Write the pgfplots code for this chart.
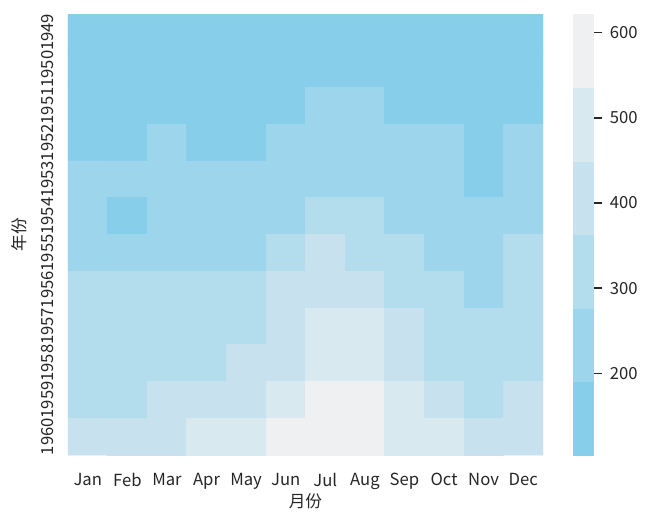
\documentclass[border=0pt]{standalone}
\usepackage{pgfplots}
\pgfplotsset{compat=1.18}
\usepackage{fontspec}
\setmainfont{Noto Sans CJK SC}
\begin{document}
\begin{tikzpicture}
\begin{axis}[
  name=main,
  scale only axis,
  width=356.25pt, height=330.75pt,
  xmin=-0.5, xmax=11.5, ymin=-0.5, ymax=11.5,
  y dir=reverse,
  axis line style={draw=none},
  major tick length=0pt,
  xtick={0,...,11},
  xticklabels={Jan,Feb,Mar,Apr,May,Jun,Jul,Aug,Sep,Oct,Nov,Dec},
  ytick={0,...,11},
  yticklabels={1949,1950,1951,1952,1953,1954,1955,1956,1957,1958,1959,1960},
  yticklabel style={rotate=90, anchor=south},
  yticklabel shift=7pt,
  xticklabel shift=10pt,
  xlabel shift=-4pt,
  ylabel shift=4pt,
  tick label style={font=\fontsize{12.5}{14}\selectfont, text=black!85},
  label style={font=\fontsize{12.5}{14}\selectfont, text=black!85},
  xlabel={月份}, ylabel={年份},
  colormap={sky}{rgb255=(135,206,235) rgb255=(157,213,236) rgb255=(179,220,237) rgb255=(199,226,238) rgb255=(217,233,240) rgb255=(239,240,242)},
  colormap access=piecewise constant,
  point meta min=104, point meta max=622,
  colorbar,
  colorbar style={
    at={(parent axis.north east)}, anchor=north west, xshift=13.5pt,
    scale only axis, width=16.5pt, height=330.75pt,
    axis on top,
    axis line style={draw=none},
    ytick={200,300,400,500,600},
    ytick pos=right, yticklabel pos=right,
    yticklabel shift=2pt,
    tick align=outside, major tick length=6pt,
    major tick style={draw=black!85, line width=1pt},
    ytick style={draw=black!85, line width=1pt},
    /pgf/number format/assume math mode=true,
    yticklabel style={font=\fontsize{12.5}{14}\selectfont, text=black!85},
  },
]
\addplot[matrix plot*, mesh/cols=12, point meta=explicit] table[meta=z] {
x y z
0 0 112
1 0 118
2 0 132
3 0 129
4 0 121
5 0 135
6 0 148
7 0 148
8 0 136
9 0 119
10 0 104
11 0 118
0 1 115
1 1 126
2 1 141
3 1 135
4 1 125
5 1 149
6 1 170
7 1 170
8 1 158
9 1 133
10 1 114
11 1 140
0 2 145
1 2 150
2 2 178
3 2 163
4 2 172
5 2 178
6 2 199
7 2 199
8 2 184
9 2 162
10 2 146
11 2 166
0 3 171
1 3 180
2 3 193
3 3 181
4 3 183
5 3 218
6 3 230
7 3 242
8 3 209
9 3 191
10 3 172
11 3 194
0 4 196
1 4 196
2 4 236
3 4 235
4 4 229
5 4 243
6 4 264
7 4 272
8 4 237
9 4 211
10 4 180
11 4 201
0 5 204
1 5 188
2 5 235
3 5 227
4 5 234
5 5 264
6 5 302
7 5 293
8 5 259
9 5 229
10 5 203
11 5 229
0 6 242
1 6 233
2 6 267
3 6 269
4 6 270
5 6 315
6 6 364
7 6 347
8 6 312
9 6 274
10 6 237
11 6 278
0 7 284
1 7 277
2 7 317
3 7 313
4 7 318
5 7 374
6 7 413
7 7 405
8 7 355
9 7 306
10 7 271
11 7 306
0 8 315
1 8 301
2 8 356
3 8 348
4 8 355
5 8 422
6 8 465
7 8 467
8 8 404
9 8 347
10 8 305
11 8 336
0 9 340
1 9 318
2 9 362
3 9 348
4 9 363
5 9 435
6 9 491
7 9 505
8 9 404
9 9 359
10 9 310
11 9 337
0 10 360
1 10 342
2 10 406
3 10 396
4 10 420
5 10 472
6 10 548
7 10 559
8 10 463
9 10 407
10 10 362
11 10 405
0 11 417
1 11 391
2 11 419
3 11 461
4 11 472
5 11 535
6 11 622
7 11 606
8 11 508
9 11 461
10 11 390
11 11 432
};
\end{axis}
\pgfresetboundingbox
\path[use as bounding box] ([shift={(-51pt,-46.5pt)}]main.south west) rectangle ([shift={(434.25pt,341.25pt)}]main.south west);
\end{tikzpicture}
\end{document}
